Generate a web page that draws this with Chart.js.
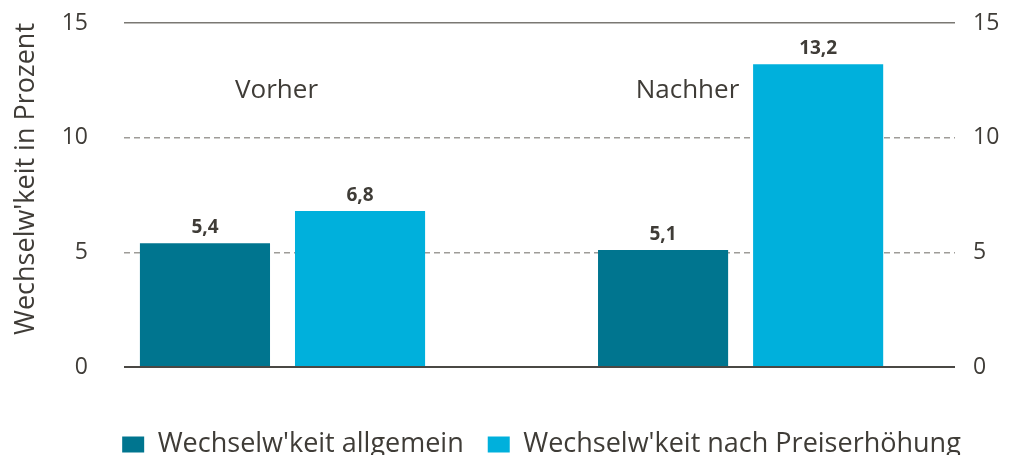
<!DOCTYPE html>
<html>
<head>
<meta charset="utf-8">
<script src="https://cdn.jsdelivr.net/npm/chart.js@4/dist/chart.umd.min.js"></script>
<style>
  html, body { margin: 0; padding: 0; background: #ffffff; }
  #wrap { width: 1013px; height: 455px; position: relative; }
</style>
</head>
<body>
<div id="wrap"><canvas id="c" width="1013" height="455"></canvas></div>
<script>
// ---- data ----
const groups = ["Vorher", "Nachher"];
const seriesNames = ["Wechselw'keit allgemein", "Wechselw'keit nach Preiserhöhung"];
const allgemein = [5.4, 5.1];
const nachPreiserhoehung = [6.8, 13.2];
const yTicks = [0, 5, 10, 15];
const yAxisTitle = "Wechselw'keit in Prozent";

// ---- styles ----
const TEXT = '#3f3c37';
const DARK = '#00758f';
const LIGHT = '#00b0dc';
const FONT = "'Open Sans', 'DejaVu Sans', sans-serif";

const toPoints = arr => arr.map((v, i) => ({ x: i, y: v }));

const valueLabels = {
  id: 'valueLabels',
  afterDatasetsDraw(chart) {
    const ctx = chart.ctx;
    ctx.save();
    ctx.font = "bold 19px " + FONT;
    ctx.fillStyle = TEXT;
    ctx.textAlign = 'center';
    ctx.textBaseline = 'alphabetic';
    chart.data.datasets.forEach((ds, di) => {
      const meta = chart.getDatasetMeta(di);
      meta.data.forEach((bar, i) => {
        const v = ds.data[i].y;
        ctx.fillText(v.toFixed(1).replace('.', ','), bar.x, bar.y - 10.5);
      });
    });
    ctx.restore();
  }
};

const groupLabels = {
  id: 'groupLabels',
  afterDatasetsDraw(chart, args, opts) {
    const ctx = chart.ctx;
    const xs = chart.scales.x, ys = chart.scales.y;
    ctx.save();
    ctx.font = "26px " + FONT;
    ctx.fillStyle = TEXT;
    ctx.textAlign = 'center';
    ctx.textBaseline = 'alphabetic';
    groups.forEach((g, i) => {
      ctx.fillText(g, xs.getPixelForValue(i + opts.shift[i]), ys.getPixelForValue(opts.level));
    });
    ctx.restore();
  }
};

const legendShift = {
  id: 'legendShift',
  afterLayout(chart, args, opts) {
    const lg = chart.legend;
    if (!lg) return;
    lg.left += opts.dx * 2;
    lg.top += opts.dy;
    lg.bottom += opts.dy;
  }
};

new Chart(document.getElementById('c'), {
  type: 'bar',
  data: {
    datasets: [
      { label: seriesNames[0], data: toPoints(allgemein), backgroundColor: DARK, borderWidth: 0 },
      { label: seriesNames[1], data: toPoints(nachPreiserhoehung), backgroundColor: LIGHT, borderWidth: 0 }
    ]
  },
  options: {
    responsive: false,
    animation: false,
    categoryPercentage: 0.677,
    barPercentage: 0.839,
    layout: { padding: { top: 23, left: 0, right: 0, bottom: 27 } },
    scales: {
      x: {
        type: 'linear',
        display: false,
        offset: false,
        min: -0.346,
        max: 1.468,
        ticks: { stepSize: 1, includeBounds: false },
        grid: { display: false, offset: false }
      },
      y: {
        position: 'left',
        min: 0, max: 15,
        afterBuildTicks: s => { s.ticks = yTicks.map(v => ({ value: v })); },
        afterFit: s => { s.width = 124; },
        ticks: { color: TEXT, font: { family: FONT, size: 23 }, padding: 6 },
        grid: {
          drawTicks: true,
          tickLength: 30,
          tickColor: 'rgba(0,0,0,0)',
          color: c => c.tick && c.tick.value === 0 ? '#4a4844' : (c.tick && c.tick.value === 15 ? '#7a7873' : '#9e9c98'),
          lineWidth: c => c.tick && c.tick.value === 0 ? 2 : 1.5
        },
        border: {
          display: false,
          dash: c => (c.tick && (c.tick.value === 5 || c.tick.value === 10)) ? [6, 4] : []
        },
        title: {
          display: true,
          text: yAxisTitle,
          align: 'end',
          color: TEXT,
          font: { family: FONT, size: 27 },
          padding: { top: 10, bottom: 0 }
        }
      },
      y2: {
        position: 'right',
        min: 0, max: 15,
        afterBuildTicks: s => { s.ticks = yTicks.map(v => ({ value: v })); },
        afterFit: s => { s.width = 58; },
        ticks: { color: TEXT, font: { family: FONT, size: 23 }, padding: 6 },
        grid: { display: true, drawOnChartArea: false, drawTicks: true, tickLength: 12, tickColor: 'rgba(0,0,0,0)' },
        border: { display: false }
      }
    },
    plugins: {
      tooltip: { enabled: false },
      legend: {
        position: 'bottom',
        labels: {
          color: TEXT,
          font: { family: FONT, size: 27 },
          boxWidth: 22,
          boxHeight: 16,
          padding: 24
        }
      },
      groupLabels: { shift: [-0.013, -0.116], level: 11.75 },
      legendShift: { dx: 35, dy: 40 }
    }
  },
  plugins: [valueLabels, groupLabels, legendShift]
});
</script>
</body>
</html>
